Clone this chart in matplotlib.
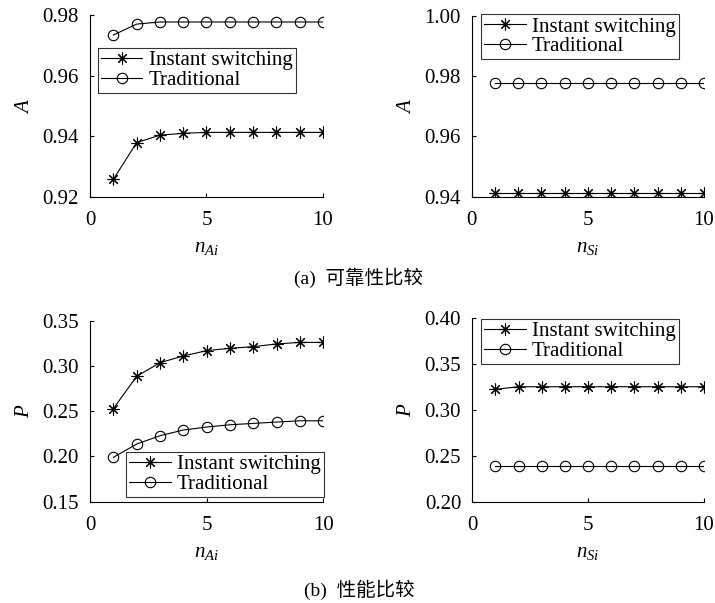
import matplotlib
matplotlib.use("Agg")
import matplotlib.pyplot as plt

plt.rcParams['font.family'] = ['Liberation Serif', 'Noto Sans CJK SC']
plt.rcParams['mathtext.fontset'] = 'custom'
plt.rcParams['mathtext.rm'] = 'Liberation Serif'
plt.rcParams['mathtext.it'] = 'Liberation Serif:italic'

x = [1, 2, 3, 4, 5, 6, 7, 8, 9, 10]

# (a) reliability
a_nA_instant = [0.9258, 0.9379, 0.9404, 0.9410, 0.9413, 0.9413, 0.9413, 0.9413, 0.9413, 0.9413]
a_nA_trad = [0.9734, 0.9770, 0.9777, 0.9777, 0.9777, 0.9777, 0.9777, 0.9777, 0.9777, 0.9777]
a_nS_instant = [0.9411] * 10
a_nS_trad = [0.9779] * 10

# (b) performance
p_nA_instant = [0.2528, 0.2885, 0.3036, 0.3110, 0.3169, 0.3195, 0.3213, 0.3243, 0.3260, 0.3260]
p_nA_trad = [0.1990, 0.2137, 0.2229, 0.2292, 0.2325, 0.2350, 0.2365, 0.2380, 0.2394, 0.2394]
p_nS_instant = [0.3226, 0.3254, 0.3254, 0.3254, 0.3254, 0.3254, 0.3254, 0.3254, 0.3254, 0.3254]
p_nS_trad = [0.2393] * 10

labels = ["Instant switching", "Traditional"]
FS = 15


def draw(ax, y1, y2, ylim, yticks, xlabel, ylabel, leg_pos, fig):
  ax.plot(x, y1, color='k', lw=0.8, marker=(8, 2, 0), ms=8.5, mew=0.8, label=labels[0])
  ax.plot(x, y2, color='k', lw=0.8, marker='o', ms=7.5, mfc='none', mew=0.8, label=labels[1])
  ax.set_xlim(0, 10)
  ax.set_ylim(*ylim)
  ax.set_xticks([0, 5, 10])
  ax.set_yticks(yticks)
  ax.set_yticklabels(["%.2f" % v for v in yticks])
  ax.spines['top'].set_visible(False)
  ax.spines['right'].set_visible(False)
  ax.tick_params(direction='in', labelsize=FS, length=3, width=0.8)
  ax.tick_params(axis='y', pad=8)
  ax.tick_params(axis='x', pad=10)
  ax.set_xlabel(xlabel, fontsize=FS, labelpad=6)
  ax.set_ylabel(ylabel, fontsize=FS, labelpad=6)
  leg = ax.legend(loc='upper left', bbox_to_anchor=leg_pos, bbox_transform=fig.transFigure,
                  fontsize=FS, frameon=True, fancybox=False, borderaxespad=0,
                  handlelength=2.0, handletextpad=0.3, borderpad=0.15, labelspacing=0.0)
  leg.get_frame().set_edgecolor('k')
  leg.get_frame().set_linewidth(0.8)


fig = plt.figure(figsize=(7.15, 6.03), dpi=100)

ax1 = fig.add_axes([0.1259, 0.6733, 0.3258, 0.3018])
draw(ax1, a_nA_instant, a_nA_trad, (0.92, 0.98), [0.92, 0.94, 0.96, 0.98],
     r'$n_{Ai}$', r'$A$', (0.1366, 0.9209), fig)

ax2 = fig.add_axes([0.6597, 0.6738, 0.3249, 0.2997])
draw(ax2, a_nS_instant, a_nS_trad, (0.94, 1.00), [0.94, 0.96, 0.98, 1.00],
     r'$n_{Si}$', r'$A$', (0.6727, 0.9768), fig)

ax3 = fig.add_axes([0.1259, 0.168, 0.3263, 0.3002])
draw(ax3, p_nA_instant, p_nA_trad, (0.15, 0.35), [0.15, 0.20, 0.25, 0.30, 0.35],
     r'$n_{Ai}$', r'$P$', (0.1762, 0.2509), fig)

ax4 = fig.add_axes([0.6606, 0.168, 0.324, 0.3041])
draw(ax4, p_nS_instant, p_nS_trad, (0.20, 0.40), [0.20, 0.25, 0.30, 0.35, 0.40],
     r'$n_{Si}$', r'$P$', (0.6727, 0.4715), fig)

fig.text(0.502, 1 - 278.3 / 603, "(a)  可靠性比较", ha='center', va='center', fontsize=14)
fig.text(0.503, 1 - 590 / 603, "(b)  性能比较", ha='center', va='center', fontsize=14)

fig.savefig("out.png", dpi=100)
